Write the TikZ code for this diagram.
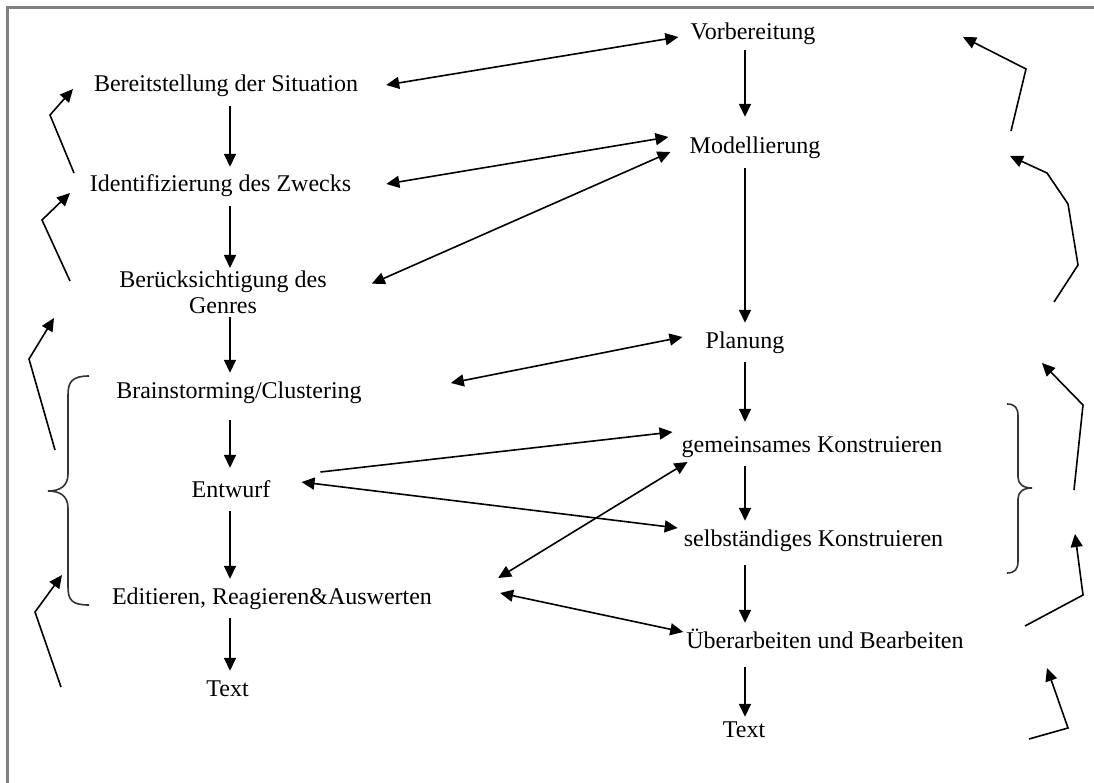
\documentclass[tikz,border=0pt]{standalone}
\usepackage{fontspec}
\setmainfont{Liberation Serif}
\usetikzlibrary{arrows.meta,calc}
\begin{document}
\begin{tikzpicture}[x=1pt,y=-1pt,
  lblbase/.style={font=\fontsize{24}{26}\selectfont, inner xsep=0pt, inner ysep=9pt},
  lbl/.style={lblbase, text height=16pt, text depth=5pt, anchor=base},
  arr/.style={line width=1.6pt, -{Triangle[length=13pt,width=12pt]}},
  darr/.style={line width=1.6pt, {Triangle[length=13pt,width=12pt]}-{Triangle[length=13pt,width=12pt]}},
  brace/.style={line width=1.6pt, draw=black!80},
  frame/.style={line width=3.2pt, draw=black!50}]
\useasboundingbox (0,0) rectangle (1094,783);
% frame
\draw[frame] (7.5,783) -- (7.5,7.7) -- (1094,7.7);
% left column
\node[lbl] (bs) at (226,92) {Bereitstellung der Situation};
\node[lbl] (iz) at (220.5,192) {Identifizierung des Zwecks};
\node[lblbase, inner ysep=3pt, align=center, anchor=north] (bg) at (223,268) {Berücksichtigung des\\Genres};
\node[lbl] (bc) at (239,398) {Brainstorming/Clustering};
\node[lbl] (ew) at (231,497) {Entwurf};
\node[lbl] (ed) at (272,604) {Editieren, Reagieren\&Auswerten};
\node[lbl] (tl) at (227.5,696) {Text};
% right column
\node[lbl] (vb) at (753,40) {Vorbereitung};
\node[lbl] (ml) at (755,154) {Modellierung};
\node[lbl] (pl) at (745,348) {Planung};
\node[lbl] (gk) at (812,452) {gemeinsames Konstruieren};
\node[lbl] (sk) at (813.5,546) {selbständiges Konstruieren};
\node[lbl] (ub) at (825,648) {Überarbeiten und Bearbeiten};
\node[lbl] (tr) at (744,737) {Text};
\coordinate (Lax) at (230,0);
\coordinate (Rax) at (745,0);
% vertical arrows left
\draw[arr] (Lax|-bs.south) -- (Lax|-iz.north);
\draw[arr] (Lax|-iz.south) -- (Lax|-bg.north);
\draw[arr] (Lax|-bg.south) -- (Lax|-bc.north);
\draw[arr] ($(Lax|-bc.south)+(0,8)$) -- ($(Lax|-ew.north)+(0,-4)$);
\draw[arr] (Lax|-ew.south) -- (Lax|-ed.north);
\draw[arr] (Lax|-ed.south) -- (Lax|-tl.north);
% vertical arrows right
\draw[arr] ($(Rax|-vb.south)+(0,-4)$) -- ($(Rax|-ml.north)+(0,-12)$);
\draw[arr] (Rax|-ml.south) -- (Rax|-pl.north);
\draw[arr] (Rax|-pl.south) -- ($(Rax|-gk.north)+(0,-5)$);
\draw[arr] (Rax|-gk.south) -- (Rax|-sk.north);
\draw[arr] ($(Rax|-sk.south)+(0,5)$) -- (Rax|-ub.north);
\draw[arr] ($(Rax|-ub.south)+(0,5)$) -- ($(Rax|-tr.north)+(0,5)$);
% cross arrows
\draw[darr] ($(bs.base east)+(28,-7)$) -- ($(vb.base west)+(-12,-3)$);
\draw[darr] ($(iz.base east)+(35,-8)$) -- ($(ml.base west)+(-21,-17)$);
\draw[darr] ($(bg.east)+(45,-9)$) -- ($(ml.base west)+(-19,-2)$);
\draw[darr] ($(bc.base east)+(89,-15)$) -- ($(pl.base west)+(-23,-11)$);
\draw[arr] ($(ew.base east)+(50,-25)$) -- ($(gk.base west)+(-9,-20)$);
\draw[darr] ($(ew.base east)+(31,-15)$) -- ($(sk.base west)+(-6,-18)$);
\draw[darr] ($(ed.base east)+(66,-26)$) -- ($(gk.base west)+(6,10)$);
\draw[darr] ($(ed.base east)+(68,-11)$) -- ($(ub.base west)+(-3,-16)$);
% left hook arrows
\draw[arr] (74,173) -- (50,115) -- (73,89);
\draw[arr] (70,281) -- (42,220) -- (70,193);
\draw[arr] (55,450) -- (29,359) -- (54,318);
\draw[arr] (61,687) -- (35,612) -- (62,575);
% right hook arrows
\draw[arr] (1011,131) -- (1026,69) -- (963,37);
\draw[arr] (1054,302) -- (1078,265) -- (1068,204) -- (1047,173) -- (1010,156);
\draw[arr] (1074,490) -- (1083,405) -- (1042,363);
\draw[arr] (1025,626) -- (1083,595) -- (1075,534);
\draw[arr] (1029,739) -- (1068,728) -- (1047,668);
% braces
\draw[brace] (89,376) .. controls (72,376) and (68,382) .. (68,395) -- (68,474)
  .. controls (68,486) and (60,491) .. (48,491)
  .. controls (60,491) and (68,496) .. (68,508) -- (68,587)
  .. controls (68,600) and (72,605) .. (89,605);
\draw[brace] (1007,404) .. controls (1015,404) and (1018,408) .. (1018,416) -- (1018,477)
  .. controls (1018,484) and (1023,488) .. (1032,488)
  .. controls (1023,488) and (1018,492) .. (1018,499) -- (1018,561)
  .. controls (1018,569) and (1015,573) .. (1007,573);
\end{tikzpicture}
\end{document}
